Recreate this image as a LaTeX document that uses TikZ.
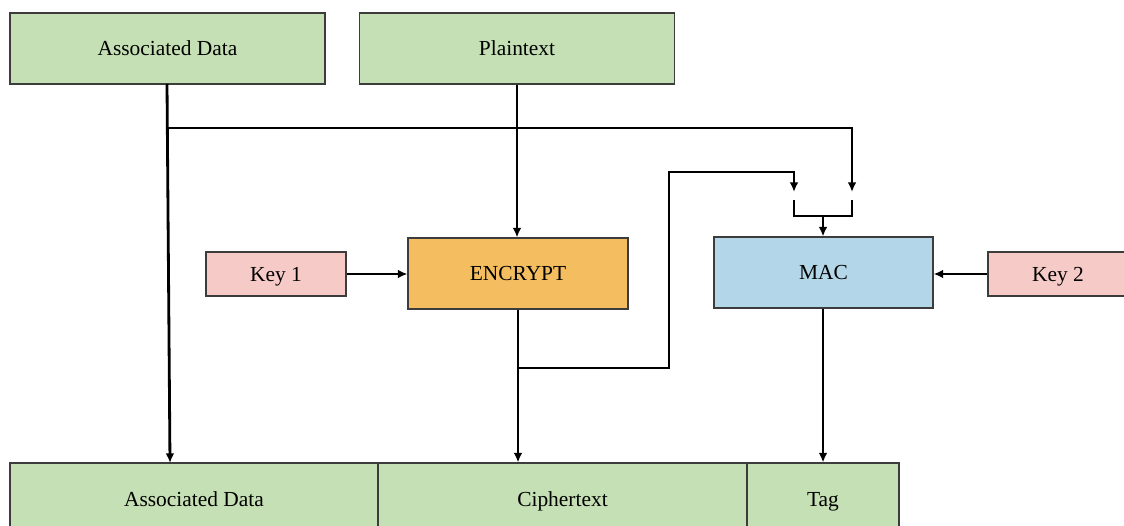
\documentclass[tikz,border=0pt]{standalone}
\usepackage{fontspec}
\setmainfont{Liberation Serif}
\usetikzlibrary{arrows.meta}
\definecolor{cgreen}{RGB}{197,224,180}
\definecolor{corange}{RGB}{244,190,96}
\definecolor{cblue}{RGB}{179,215,233}
\definecolor{cpink}{RGB}{246,203,199}
\definecolor{cedge}{RGB}{60,60,60}
\begin{document}
\begin{tikzpicture}[x=0.02cm,y=-0.02cm,
  box/.style={draw=cedge,line width=0.6pt,inner sep=0pt,text height=9.6pt,text depth=1.4pt,font=\fontsize{12.2}{14}\selectfont},
  conn/.style={line width=1.6pt,-{Latex[length=5.5pt,width=5pt]}},
  plain/.style={line width=1.6pt}]
\useasboundingbox (0,0) rectangle (1124,526);
\node[box,fill=cgreen,minimum width=315*0.02cm,minimum height=71*0.02cm] (ad) at (167.5,48.5) {Associated Data};
\node[box,fill=cgreen,minimum width=315*0.02cm,minimum height=71*0.02cm] (pt) at (517,48.5) {Plaintext};
\node[box,fill=cpink,minimum width=140*0.02cm,minimum height=44*0.02cm] (k1) at (276,274) {Key 1};
\node[box,fill=corange,minimum width=220*0.02cm,minimum height=71*0.02cm] (enc) at (518,273.5) {ENCRYPT};
\node[box,fill=cblue,minimum width=219*0.02cm,minimum height=71*0.02cm] (mac) at (823.5,272.5) {MAC};
\node[box,fill=cpink,minimum width=140*0.02cm,minimum height=44*0.02cm] (k2) at (1058,274) {Key 2};
\node[box,fill=cgreen,minimum width=368*0.02cm,minimum height=72*0.02cm] (oad) at (194,499) {Associated Data};
\node[box,fill=cgreen,minimum width=369*0.02cm,minimum height=72*0.02cm] (ct) at (562.5,499) {Ciphertext};
\node[box,fill=cgreen,minimum width=152*0.02cm,minimum height=72*0.02cm] (tag) at (823,499) {Tag};
% coordinates
\coordinate (adtop) at (167,84);
\coordinate (adbot) at (170,463);
\coordinate (adbr) at (167.2,128);
\coordinate (macin2) at (852,192);
\coordinate (macin1) at (794,192);
\coordinate (brR) at (852,200);
\coordinate (brL) at (794,200);
\coordinate (brM) at (823,216);
\coordinate (encout) at (518,368);
% connectors
\draw[conn] (adtop) -- (adbot);
\draw[conn] (adbr) -- (852,128) -- (macin2);
\draw[conn] (pt.south) -- (pt.south |- enc.north);
\draw[conn] (k1.east) -- (k1.east -| enc.west);
\draw[conn] (k2.west) -- (k2.west -| mac.east);
\draw[conn] (enc.south) -- (enc.south |- ct.north);
\draw[conn] (encout) -- (669,368) -- (669,172) -- (794,172) -- (macin1);
\draw[plain] (brL) -- (794,216) -- (852,216) -- (brR);
\draw[conn] (brM) -- (mac.north -| brM);
\draw[conn] (mac.south -| tag.north) -- (tag.north);
\end{tikzpicture}
\end{document}
